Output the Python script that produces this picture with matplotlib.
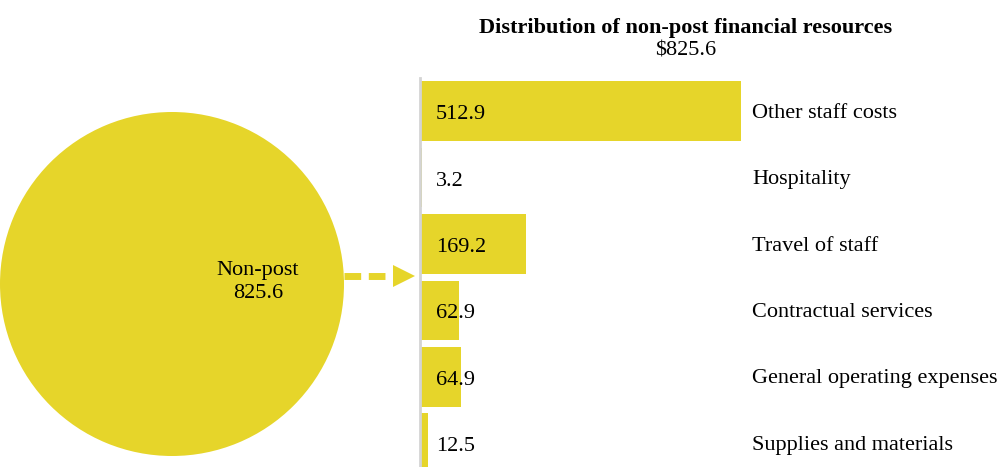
import matplotlib
matplotlib.use("Agg")
import matplotlib.pyplot as plt

# non-post resources, thousands of dollars
nonpost_label = "Non-post"
nonpost_total = 825.6

categories = ["Other staff costs", "Hospitality", "Travel of staff",
              "Contractual services", "General operating expenses",
              "Supplies and materials"]
amounts = [512.9, 3.2, 169.2, 62.9, 64.9, 12.5]

YELLOW = "#E6D52A"
FS = 16
plt.rcParams["font.family"] = ["Liberation Serif", "DejaVu Serif"]

W, H = 1005, 467
fig = plt.figure(figsize=(W / 100, H / 100), dpi=100)

# --- big circle for the non-post total -----------------------------------
cx, cy, r = 172, 284, 172
pax = fig.add_axes([(cx - r) / W, 1 - (cy + r) / H, 2 * r / W, 2 * r / H])
pax.pie([nonpost_total], colors=[YELLOW], radius=1.0, startangle=90)
pax.set_xlim(-1, 1)
pax.set_ylim(-1, 1)
pax.set_aspect("equal")
pax.axis("off")
pax.text(0.5, 0.01, f"{nonpost_label}\n{nonpost_total:.1f}", ha="center",
         va="center", fontsize=FS, linespacing=1.3)

# --- dashed arrow toward the breakdown -----------------------------------
ay = 1 - 276 / H
fig.add_artist(plt.Line2D([344 / W, 394 / W], [ay, ay],
                          color=YELLOW, lw=5, ls=(0, (2.4, 1.1)),
                          solid_capstyle="butt", dash_capstyle="butt"))
fig.add_artist(plt.Polygon([[393 / W, ay + 11 / H], [415 / W, ay],
                            [393 / W, ay - 11 / H]], closed=True,
                           color=YELLOW, lw=0))

# --- breakdown bars -------------------------------------------------------
px_per_unit = 321 / 512.9
row = 66.4
top = 78
n = len(categories)
bottom = top + n * row
ax = fig.add_axes([420 / W, 1 - bottom / H, (W - 420) / W, (bottom - top) / H])
ypos = list(range(n))
ax.barh(ypos, amounts, height=0.9, color=YELLOW)
ax.set_xlim(0, (W - 420) / px_per_unit)
ax.set_ylim(n - 0.5, -0.5)
for s in ("top", "right", "bottom"):
    ax.spines[s].set_visible(False)
ax.spines["left"].set_color("#d4d4d4")
ax.spines["left"].set_linewidth(2)
ax.set_xticks([])
ax.set_yticks([])

for i, (cat, val) in enumerate(zip(categories, amounts)):
    ax.annotate(f"{val:.1f}", xy=(0, i), xytext=(16 * 0.72, -2.5),
                textcoords="offset points", ha="left", va="center",
                fontsize=FS)
    ax.annotate(cat, xy=(0, i), xytext=(332 * 0.72, -1.5),
                textcoords="offset points", ha="left", va="center",
                fontsize=FS)

fig.text(686 / W, 1 - 28 / H, "Distribution of non-post financial resources",
         ha="center", va="center", fontsize=FS, fontweight="bold")
fig.text(686 / W, 1 - 51 / H, f"${nonpost_total:.1f}", ha="center",
         va="center", fontsize=FS)

fig.savefig("out.png", dpi=100)
